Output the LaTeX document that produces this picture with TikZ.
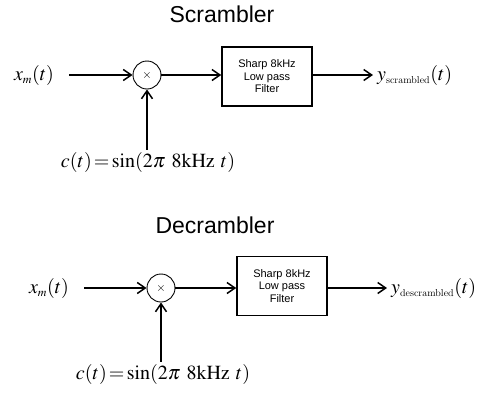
\documentclass[tikz,border=0pt]{standalone}
\usepackage{fontspec}
\usepackage{mathptmx}
\newfontfamily\lblfont{Liberation Sans}
\usepackage{tikz}
\usetikzlibrary{arrows.meta,positioning}
\newcommand{\subtxt}[1]{\mbox{\fontsize{10}{10}\selectfont\rmfamily #1}}
\tikzset{
  ar/.style={-{Straight Barb[length=8pt,width=11pt,line width=1.5pt]},line width=1.5pt,black},
  box/.style={draw,line width=1.5pt,minimum width=90pt,minimum height=59pt,align=center,font=\lblfont\fontsize{11}{12.5}\selectfont,inner sep=2pt},
  mix/.style={circle,draw,line width=0.9pt,minimum size=28pt,inner sep=0pt,font=\lblfont\fontsize{12}{12}\selectfont},
  sig/.style={inner sep=0pt,font=\fontsize{20}{22}\selectfont},
  ttl/.style={inner sep=0pt,font=\lblfont\fontsize{23}{26}\selectfont}
}
\begin{document}
\begin{tikzpicture}[x=1pt,y=-1pt]
\useasboundingbox (0,0) rectangle (498,405);
% scrambler
\node[ttl] (ttlA) at (222,14) {Scrambler};
\node[sig] (xinA) at (34,75) {$x_{\scriptscriptstyle m}(t)$};
\node[mix] (mixA) at (147,75) {$\times$};
\node[box] (lpfA) at (267,76.5) {Sharp 8kHz\\ Low pass\\ Filter};
\node[sig,anchor=west] (youtA) at (377,75) {$y_{\subtxt{scrambled}}(t)$};
\node[sig] (carA) at (148,162) {$c(t)\!=\!\sin(2\pi\ 8\mathrm{kHz}\ t)$};
\draw[ar,shorten <=15pt] (xinA.east) -- (mixA.west);
\draw[ar] (mixA.east) -- (mixA.east -| lpfA.west);
\draw[ar,shorten >=4pt] (lpfA.east |- mixA) -- (youtA.west |- mixA);
\draw[ar,shorten <=2pt] (carA.north -| mixA) -- (mixA.south);
% descrambler
\node[ttl] (ttlB) at (215,225) {Decrambler};
\node[sig] (xinB) at (49,288) {$x_{\scriptscriptstyle m}(t)$};
\node[mix] (mixB) at (161,288) {$\times$};
\node[box] (lpfB) at (282,286) {Sharp 8kHz\\ Low pass\\ Filter};
\node[sig,anchor=west] (youtB) at (391,288) {$y_{\subtxt{descrambled}}(t)$};
\node[sig] (carB) at (163,374) {$c(t)\!=\!\sin(2\pi\ 8\mathrm{kHz}\ t)$};
\draw[ar,shorten <=15pt] (xinB.east) -- (mixB.west);
\draw[ar] (mixB.east) -- (mixB.east -| lpfB.west);
\draw[ar,shorten >=4pt] (lpfB.east |- mixB) -- (youtB.west |- mixB);
\draw[ar,shorten <=2pt] (carB.north -| mixB) -- (mixB.south);
\end{tikzpicture}
\end{document}
